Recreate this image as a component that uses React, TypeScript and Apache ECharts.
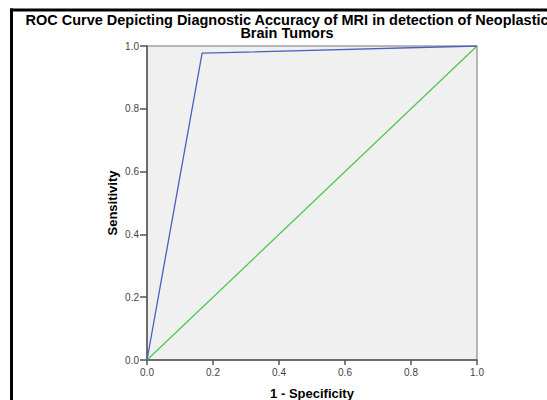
import React, { useEffect, useRef } from "react";
import * as echarts from "echarts";

const titleLines = [
  "ROC Curve Depicting Diagnostic Accuracy of MRI in detection of Neoplastic",
  "Brain Tumors",
];
const xAxisName = "1 - Specificity";
const yAxisName = "Sensitivity";
const rocCurve: [number, number][] = [
  [0, 0],
  [0.167, 0.977],
  [1, 1],
];
const referenceLine: [number, number][] = [
  [0, 0],
  [1, 1],
];

export default function App() {
  const ref = useRef<HTMLDivElement>(null);
  useEffect(() => {
    if (!ref.current) return;
    const chart = echarts.init(ref.current, undefined, { renderer: "svg" });
    const font = "Liberation Sans, Arial, sans-serif";
    chart.setOption({
      animation: false,
      backgroundColor: "#ffffff",
      grid: {
        left: 147,
        top: 46,
        width: 330,
        height: 314,
        show: true,
        backgroundColor: "#f0f0f0",
        borderColor: "#777777",
        borderWidth: 1,
        containLabel: false,
        outerBoundsMode: "none",
      },
      xAxis: {
        type: "value",
        min: 0,
        max: 1,
        interval: 0.2,
        name: xAxisName,
        nameLocation: "middle",
        nameGap: 27,
        nameMoveOverlap: false,
        nameTextStyle: { fontFamily: font, fontWeight: "bold", fontSize: 13, color: "#000" },
        axisLine: { show: true, onZero: false, lineStyle: { color: "#555", width: 1.5 } },
        axisTick: { show: true, length: 5, lineStyle: { color: "#555", width: 1.5 } },
        axisLabel: { fontFamily: font, fontSize: 10, color: "#444", margin: 7, formatter: (v: number) => v.toFixed(1) },
        splitLine: { show: false },
      },
      yAxis: {
        type: "value",
        min: 0,
        max: 1,
        interval: 0.2,
        name: yAxisName,
        nameLocation: "middle",
        nameGap: 28,
        nameMoveOverlap: false,
        nameTextStyle: { fontFamily: font, fontWeight: "bold", fontSize: 13, color: "#000" },
        axisLine: { show: true, onZero: false, lineStyle: { color: "#555", width: 1.5 } },
        axisTick: { show: true, length: 7, lineStyle: { color: "#555", width: 1.5 } },
        axisLabel: { fontFamily: font, fontSize: 10, color: "#444", margin: 8, formatter: (v: number) => v.toFixed(1) },
        splitLine: { show: false },
      },
      series: [
        {
          type: "line",
          data: referenceLine,
          showSymbol: false,
          symbol: "none",
          lineStyle: { color: "#4cc94c", width: 1.3 },
          z: 2,
        },
        {
          type: "line",
          data: rocCurve,
          showSymbol: false,
          symbol: "none",
          lineStyle: { color: "#4a5fc0", width: 1.3 },
          z: 3,
        },
      ],
      graphic: [
        {
          type: "text",
          x: 287,
          y: 14,
          scaleX: 1.036,
          style: {
            text: titleLines[0],
            fontFamily: font,
            fontWeight: "bold",
            fontSize: 14,
            lineHeight: 13,
            fill: "#000",
            textAlign: "center",
            textVerticalAlign: "top",
          },
        },
        {
          type: "text",
          x: 287,
          y: 27,
          scaleX: 1.036,
          style: {
            text: titleLines[1],
            fontFamily: font,
            fontWeight: "bold",
            fontSize: 14,
            lineHeight: 13,
            fill: "#000",
            textAlign: "center",
            textVerticalAlign: "top",
          },
        },
        {
          type: "line",
          shape: { x1: 10, y1: 10, x2: 547, y2: 10 },
          style: { stroke: "#000", lineWidth: 3 },
        },
        {
          type: "line",
          shape: { x1: 11.5, y1: 8.5, x2: 11.5, y2: 400 },
          style: { stroke: "#000", lineWidth: 3 },
        },
      ],
    });
    return () => chart.dispose();
  }, []);
  return (
    <div
      ref={ref}
      style={{ position: "fixed", left: 0, top: 0, width: 547, height: 400 }}
    />
  );
}
